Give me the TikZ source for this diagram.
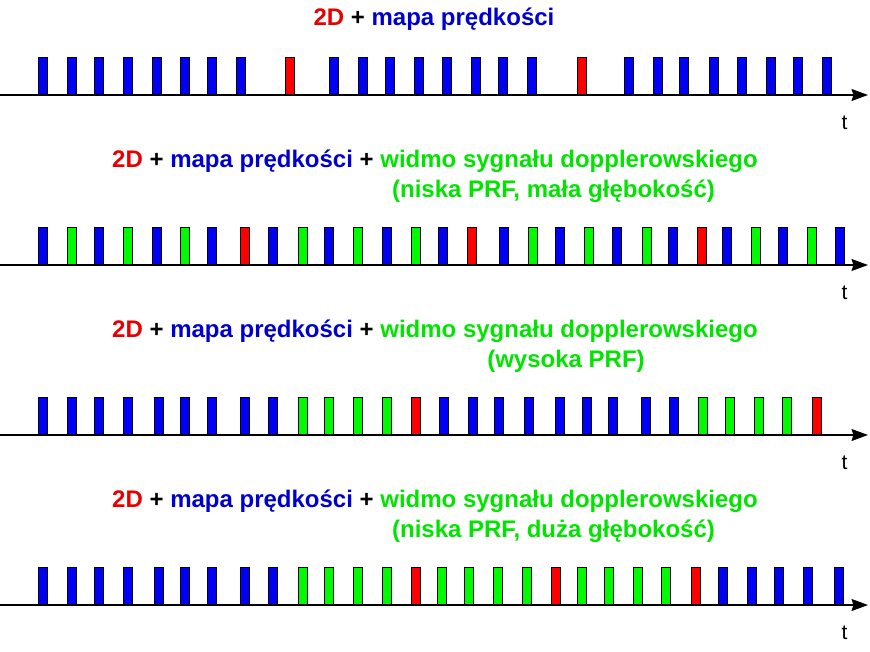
\documentclass[tikz,border=0pt]{standalone}
\usepackage{fontspec}
\setmainfont{Liberation Sans}
\usepackage{tikz}
\usetikzlibrary{positioning}
\usetikzlibrary{arrows.meta,calc}
\definecolor{pulsered}{RGB}{255,0,0}
\definecolor{pulseblue}{RGB}{0,0,245}
\definecolor{pulsegreen}{RGB}{0,250,0}
\definecolor{textred}{RGB}{230,0,0}
\definecolor{textblue}{RGB}{0,0,205}
\definecolor{textgreen}{RGB}{0,228,0}
\tikzset{
    %Define standard arrow tip
    >={Stealth[length=16.5pt,width=12pt,inset=2pt]},
    % Define axis style
    axis/.style={
           ->,
           color=black,
           line width=1.3pt,}
}
\newcommand{\pulseheight}{38pt}
\newcommand{\modeA}{{\color{textred}2D} + {\color{textblue}mapa prędkości}}
\newcommand{\modeB}{\modeA{} + {\color{textgreen}widmo sygnału dopplerowskiego}}

\begin{document}
\begin{tikzpicture}[x=1pt, y=-1pt, outer sep = 0pt]
\tikzstyle{pulse}=[draw=black, rectangle, line width=0.8pt, inner sep=0pt,
                   minimum height=\pulseheight, minimum width=9.5pt, anchor=south west]
\tikzstyle{title}=[font=\fontsize{24}{28}\selectfont\bfseries, inner sep=0pt, align=center]
\tikzstyle{tlabel}=[font=\fontsize{21}{24}\selectfont, inner sep=0pt]

\useasboundingbox (0,0) rectangle (870,652);

%%%%%%%%%%%%%%%%%%%%%%%%%%%%%%%%%
% 2D + mapa
%%%%%%%%%%%%%%%%%%%%%%%%%%%%%%%%%
\node[title] (head1) at (434,19) {\modeA};
\foreach \x/\c [count=\i] in {38/pulseblue,67/pulseblue,94/pulseblue,123/pulseblue,
    152/pulseblue,180/pulseblue,207/pulseblue,236/pulseblue,285/pulsered,329/pulseblue,
    358/pulseblue,385/pulseblue,414/pulseblue,442/pulseblue,471/pulseblue,498/pulseblue,
    527/pulseblue,577/pulsered,624/pulseblue,653/pulseblue,679/pulseblue,709/pulseblue,
    737/pulseblue,766/pulseblue,793/pulseblue,822/pulseblue}
    \node[pulse, fill=\c] (a\i) at (\x,95) {};
\coordinate (axA) at (0,95);
\coordinate (tipA) at (868,95);
\draw[axis] (axA) -- (tipA);
\node[tlabel] (tA) at (844.5,123) {t};

%%%%%%%%%%%%%%%%%%%%%%%%%%%%%%%%%
% niska PRF, mala glebokosc
%%%%%%%%%%%%%%%%%%%%%%%%%%%%%%%%%
\node[title] (head2) at (435,161) {\modeB};
\node[title, textgreen] (sub2) at (553.5,191) {(niska PRF, mała głębokość)};
\foreach \x/\c [count=\i] in {38/pulseblue,67/pulsegreen,94/pulseblue,123/pulsegreen,
    152/pulseblue,180/pulsegreen,207/pulseblue,240/pulsered,268/pulseblue,298/pulsegreen,
    324/pulseblue,353/pulsegreen,382/pulseblue,411/pulsegreen,438/pulseblue,467/pulsered,
    499/pulseblue,528/pulsegreen,555/pulseblue,584/pulsegreen,612/pulseblue,642/pulsegreen,
    668/pulseblue,697/pulsered,722/pulseblue,751/pulsegreen,778/pulseblue,807/pulsegreen,
    835/pulseblue}
    \node[pulse, fill=\c] (b\i) at (\x,265) {};
\coordinate (axB) at (0,265);
\coordinate (tipB) at (868,265);
\draw[axis] (axB) -- (tipB);
\node[tlabel] (tB) at (844.5,293) {t};

%%%%%%%%%%%%%%%%%%%%%%%%%%%%%%%%%
% wysoka PRF
%%%%%%%%%%%%%%%%%%%%%%%%%%%%%%%%%
\node[title] (head3) at (435,331) {\modeB};
\node[title, textgreen] (sub3) at (566,361) {(wysoka PRF)};
\foreach \x/\c [count=\i] in {38/pulseblue,67/pulseblue,94/pulseblue,123/pulseblue,
    154/pulseblue,180/pulseblue,207/pulseblue,240/pulseblue,268/pulseblue,298/pulsegreen,
    324/pulsegreen,353/pulsegreen,382/pulsegreen,411/pulsered,439/pulseblue,468/pulseblue,
    494/pulseblue,524/pulseblue,555/pulseblue,582/pulseblue,608/pulseblue,641/pulseblue,
    669/pulseblue,698/pulsegreen,725/pulsegreen,754/pulsegreen,782/pulsegreen,812/pulsered}
    \node[pulse, fill=\c] (c\i) at (\x,435) {};
\coordinate (axC) at (0,435);
\coordinate (tipC) at (868,435);
\draw[axis] (axC) -- (tipC);
\node[tlabel] (tC) at (844.5,463) {t};

%%%%%%%%%%%%%%%%%%%%%%%%%%%%%%%%%
% niska PRF, duza glebokosc
%%%%%%%%%%%%%%%%%%%%%%%%%%%%%%%%%
\node[title] (head4) at (435,501) {\modeB};
\node[title, textgreen] (sub4) at (553.5,531) {(niska PRF, duża głębokość)};
\foreach \x/\c [count=\i] in {38/pulseblue,67/pulseblue,94/pulseblue,123/pulseblue,
    154/pulseblue,180/pulseblue,207/pulseblue,240/pulseblue,268/pulseblue,298/pulsegreen,
    324/pulsegreen,353/pulsegreen,382/pulsegreen,411/pulsered,437/pulsegreen,464/pulsegreen,
    493/pulsegreen,522/pulsegreen,551/pulsered,577/pulsegreen,604/pulsegreen,633/pulsegreen,
    661/pulsegreen,691/pulsered,718/pulseblue,747/pulseblue,774/pulseblue,803/pulseblue,
    834/pulseblue}
    \node[pulse, fill=\c] (d\i) at (\x,605) {};
\coordinate (axD) at (0,605);
\coordinate (tipD) at (868,605);
\draw[axis] (axD) -- (tipD);
\node[tlabel] (tD) at (844.5,633) {t};

\end{tikzpicture}
\end{document}
